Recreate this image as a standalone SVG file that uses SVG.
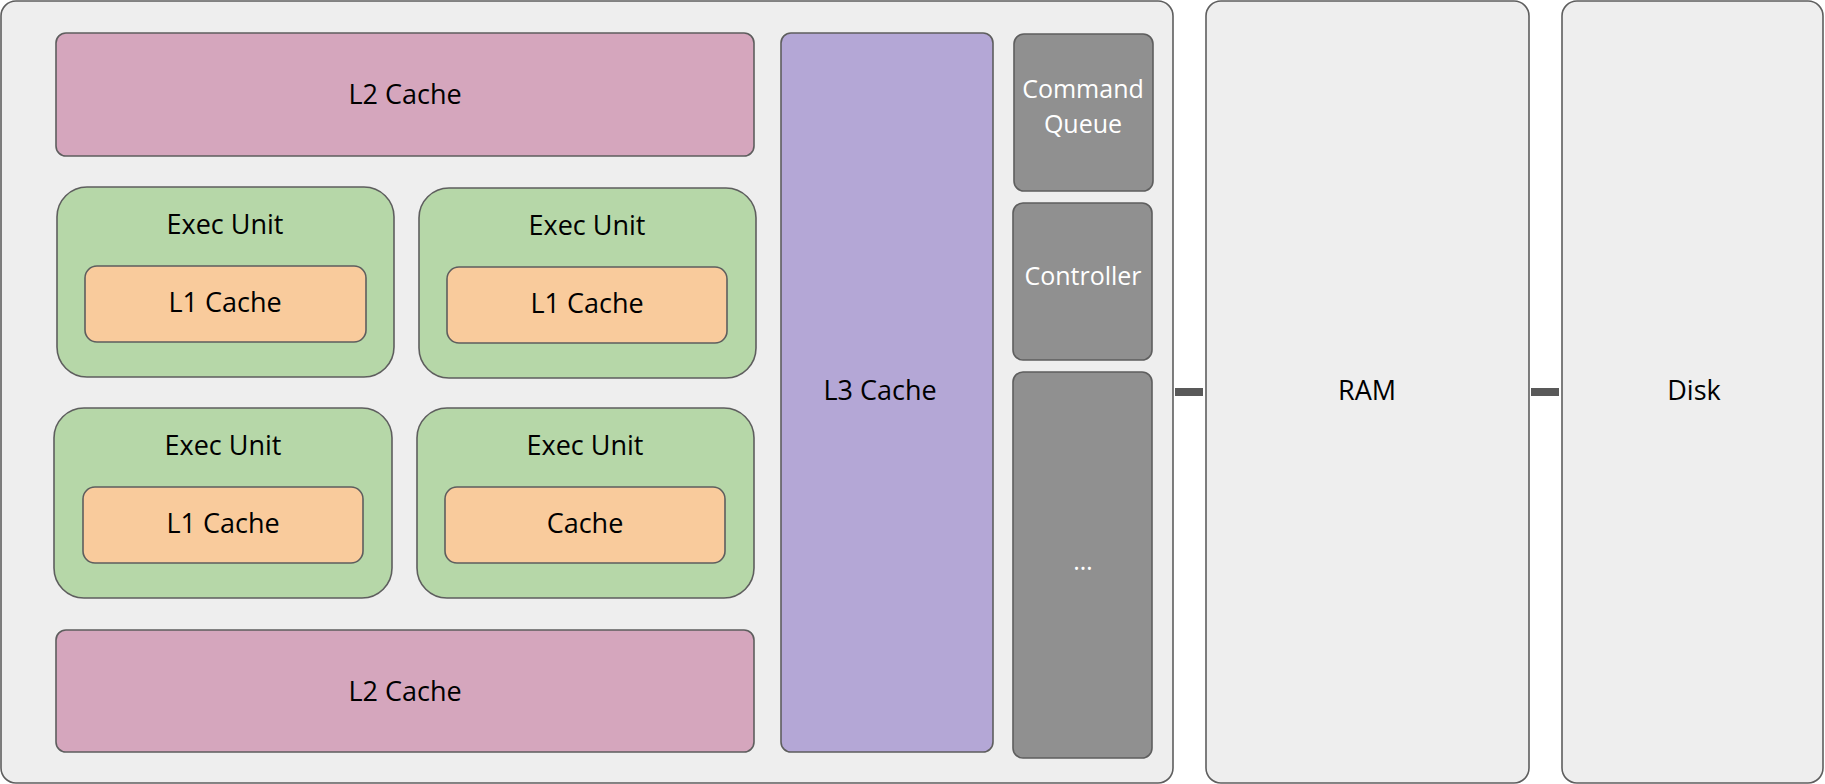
<svg xmlns="http://www.w3.org/2000/svg" width="1825" height="784" viewBox="0 0 1825 784">
  <style>
    .box { stroke: #5e5e5e; stroke-width: 1.6; }
    .panel { fill: #eeeeee; }
    .l2 { fill: #d5a6bd; }
    .exec { fill: #b6d7a8; }
    .l1 { fill: #f9cb9c; }
    .l3 { fill: #b4a7d6; }
    .ctl { fill: #909090; }
    .label { font-family: "Open Sans", "Liberation Sans", sans-serif; font-size: 27px; fill: #000000; text-anchor: middle; }
    .light { font-family: "Open Sans", "Liberation Sans", sans-serif; font-size: 25px; fill: #ffffff; text-anchor: middle; }
    .link { stroke: #595959; stroke-width: 8; fill: none; }
  </style>

  <!-- Processor package -->
  <g id="cpu">
    <rect class="box panel" x="1" y="1" width="1172" height="782" rx="15"/>
  </g>

  <g id="l2-top">
    <rect class="box l2" x="56" y="33" width="698" height="123" rx="10"/>
    <text class="label" x="405" y="104">L2 Cache</text>
  </g>

  <g id="exec-1">
    <rect class="box exec" x="57" y="187" width="337" height="190" rx="30"/>
    <text class="label" x="225" y="234">Exec Unit</text>
  </g>
  <g id="l1-1">
    <rect class="box l1" x="85" y="266" width="281" height="76" rx="12"/>
    <text class="label" x="225" y="312">L1 Cache</text>
  </g>

  <g id="exec-2">
    <rect class="box exec" x="419" y="188" width="337" height="190" rx="30"/>
    <text class="label" x="587" y="235">Exec Unit</text>
  </g>
  <g id="l1-2">
    <rect class="box l1" x="447" y="267" width="280" height="76" rx="12"/>
    <text class="label" x="587" y="313">L1 Cache</text>
  </g>

  <g id="exec-3">
    <rect class="box exec" x="54" y="408" width="338" height="190" rx="30"/>
    <text class="label" x="223" y="455">Exec Unit</text>
  </g>
  <g id="l1-3">
    <rect class="box l1" x="83" y="487" width="280" height="76" rx="12"/>
    <text class="label" x="223" y="533">L1 Cache</text>
  </g>

  <g id="exec-4">
    <rect class="box exec" x="417" y="408" width="337" height="190" rx="30"/>
    <text class="label" x="585" y="455">Exec Unit</text>
  </g>
  <g id="cache-4">
    <rect class="box l1" x="445" y="487" width="280" height="76" rx="12"/>
    <text class="label" x="585" y="533">Cache</text>
  </g>

  <g id="l2-bottom">
    <rect class="box l2" x="56" y="630" width="698" height="122" rx="10"/>
    <text class="label" x="405" y="701">L2 Cache</text>
  </g>

  <g id="l3">
    <rect class="box l3" x="781" y="33" width="212" height="719" rx="10"/>
    <text class="label" x="880" y="400">L3 Cache</text>
  </g>

  <g id="command-queue">
    <rect class="box ctl" x="1014" y="34" width="139" height="157" rx="10"/>
    <text class="light" x="1083" y="98">Command</text>
    <text class="light" x="1083" y="133">Queue</text>
  </g>

  <g id="controller">
    <rect class="box ctl" x="1013" y="203" width="139" height="157" rx="10"/>
    <text class="light" x="1083" y="285">Controller</text>
  </g>

  <g id="more">
    <rect class="box ctl" x="1013" y="372" width="139" height="386" rx="10"/>
    <text class="light" x="1083" y="570" font-size="20">…</text>
  </g>

  <!-- Memory hierarchy -->
  <g id="ram">
    <rect class="box panel" x="1206" y="1" width="323" height="782" rx="15"/>
    <text class="label" x="1367" y="400">RAM</text>
  </g>

  <g id="disk">
    <rect class="box panel" x="1562" y="1" width="261" height="782" rx="15"/>
    <text class="label" x="1694" y="400">Disk</text>
  </g>

  <g id="connectors">
    <line class="link" x1="1175" y1="392" x2="1203" y2="392"/>
    <line class="link" x1="1531" y1="392" x2="1559" y2="392"/>
  </g>
</svg>
